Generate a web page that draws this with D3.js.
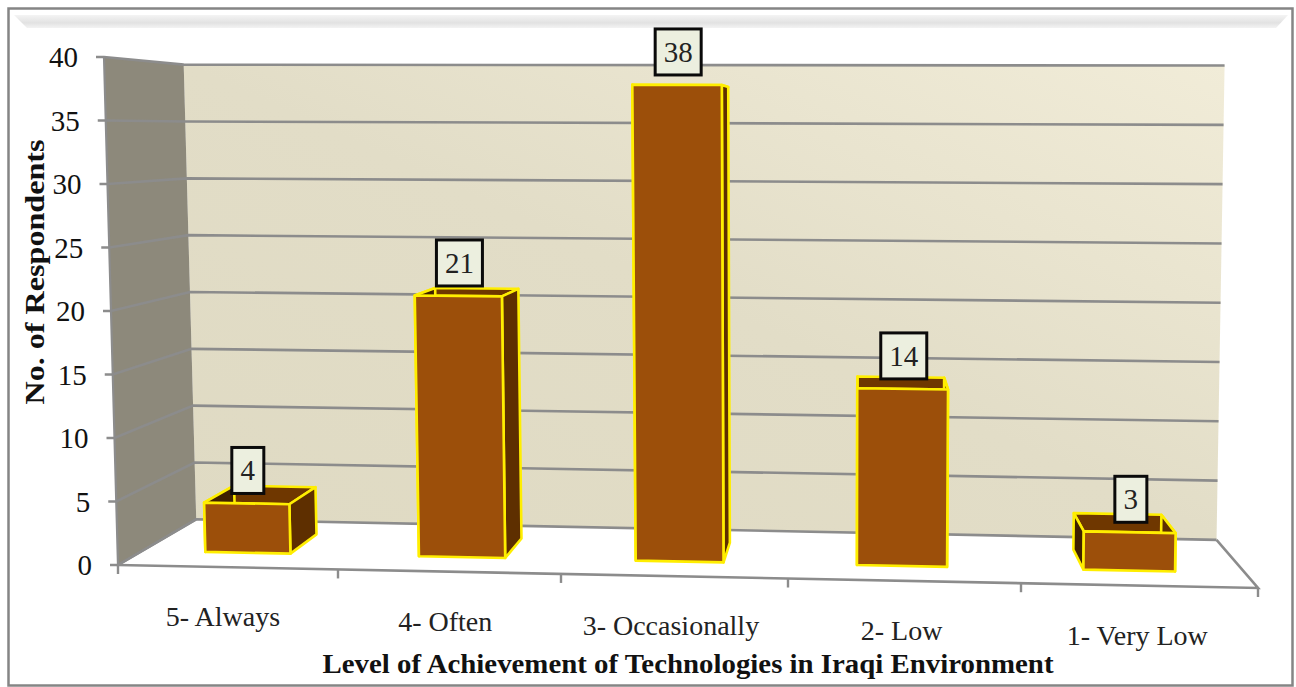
<!DOCTYPE html>
<html>
<head>
<meta charset="utf-8">
<script src="https://cdnjs.cloudflare.com/ajax/libs/d3/7.8.5/d3.min.js"></script>
<style>
html, body { margin: 0; padding: 0; background: #fff; }
svg { display: block; font-family: "Liberation Serif", serif; }
</style>
</head>
<body>
<svg id="chart" width="1296" height="687"></svg>
<script>
// Survey responses per achievement level
const categories = ["5- Always", "4- Often", "3- Occasionally", "2- Low", "1- Very Low"];
const respondents = [4, 21, 38, 14, 3];
const valueTicks = [0, 5, 10, 15, 20, 25, 30, 35, 40];
const valueMax = 40;
const yTitle = "No. of Respondents";
const xTitle = "Level of Achievement of Technologies in Iraqi Environment";

const colors = {
  frame: "#858585", grid: "#8c8c8c", wall: "#8d897b",
  front: "#9c4f0a", top: "#6f3700", right: "#5e2f00", left: "#3f2000",
  edge: "#ffee00", box: "#ecefdf"
};

const svg = d3.select("#chart");

// Perspective set-up: the front plane is described by scales, and depth pulls
// any point toward one shared vanishing point.
const vanish = { x: 863, y: 130 };
const backDepth = 0.105, barNear = 0.033, barFar = 0.077, barHalf = 0.2, barCentre = 0.495;

const floorX = d3.scaleLinear().domain(d3.range(6)).range([118, 338, 561, 788, 1021, 1258]);
const floorY = d3.scaleLinear().domain([118, 1258]).range([565, 588]);
const topX = d3.scaleLinear().domain([118, 1258]).range([104, 1267]);
const topY = d3.scaleLinear().domain([118, 1258]).range([57, 58]);
const lift = d3.scaleLinear().domain([0, valueMax]).range([0, 1]);

function project(u, v, depth) {
  const bx = floorX(u), by = floorY(bx);
  const t = lift(v);
  const x = bx + (topX(bx) - bx) * t;
  const y = by + (topY(bx) - by) * t;
  return [x + (vanish.x - x) * depth, y + (vanish.y - y) * depth];
}
const poly = pts => d3.line()(pts) + "Z";

// Outer frame and bevelled band
const defs = svg.append("defs");
const band = defs.append("linearGradient").attr("id", "band").attr("x1", 0).attr("x2", 0).attr("y1", 0).attr("y2", 1);
band.append("stop").attr("offset", 0).attr("stop-color", "#f4f4f4");
band.append("stop").attr("offset", 0.6).attr("stop-color", "#e2e2e2");
band.append("stop").attr("offset", 1).attr("stop-color", "#f3f3f3");
const wallFill = defs.append("linearGradient").attr("id", "backwall")
  .attr("x1", 0).attr("y1", 1).attr("x2", 1).attr("y2", 0);
wallFill.append("stop").attr("offset", 0).attr("stop-color", "#dfdac3");
wallFill.append("stop").attr("offset", 0.5).attr("stop-color", "#e2ddc7");
wallFill.append("stop").attr("offset", 1).attr("stop-color", "#f1ecd8");

svg.append("rect").attr("x", 8.5).attr("y", 8.5).attr("width", 1284).attr("height", 677)
  .attr("fill", "#fff").attr("stroke", colors.frame).attr("stroke-width", 2.5);
svg.append("path").attr("d", poly([[14, 15], [1288, 15], [1276, 28], [27, 28]])).attr("fill", "url(#band)");

// Back wall, side wall
const uMax = 5;
svg.append("path").attr("fill", "url(#backwall)")
  .attr("d", poly([project(0, 0, backDepth), project(0, valueMax, backDepth), project(uMax, valueMax, backDepth), project(uMax, 0, backDepth)]));
svg.append("path").attr("fill", colors.wall)
  .attr("d", poly([project(0, 0, 0), project(0, valueMax, 0), project(0, valueMax, backDepth), project(0, 0, backDepth)]));

// Gridlines wrap from the side wall onto the back wall
const gridLine = d3.line();
svg.append("g").attr("fill", "none").attr("stroke", colors.grid).attr("stroke-width", 2.6)
  .selectAll("path").data(valueTicks).join("path")
  .attr("d", v => {
    const a = project(0, v, 0);
    return gridLine([[a[0] - 8, a[1]], a, project(0, v, backDepth), project(uMax, v, backDepth)]);
  });

// Floor outline, wall edge and category ticks
svg.append("path").attr("d", gridLine([project(0, 0, 0), project(uMax, 0, 0), project(uMax, 0, backDepth)]))
  .attr("fill", "none").attr("stroke", colors.grid).attr("stroke-width", 2.6);
svg.append("path").attr("d", gridLine([project(0, valueMax, 0), project(0, 0, 0), project(0, 0, backDepth)]))
  .attr("fill", "none").attr("stroke", colors.grid).attr("stroke-width", 2.2);
svg.append("g").selectAll("line").data(d3.range(6)).join("line")
  .attr("x1", u => project(u, 0, 0)[0]).attr("x2", u => project(u, 0, 0)[0])
  .attr("y1", u => project(u, 0, 0)[1]).attr("y2", u => project(u, 0, 0)[1] + 9)
  .attr("stroke", colors.grid).attr("stroke-width", 2.4);

// Value axis labels
svg.append("g").attr("font-size", 29).attr("fill", "#111").attr("text-anchor", "end")
  .selectAll("text").data(valueTicks).join("text")
  .attr("x", v => project(0, v, 0)[0] - 26)
  .attr("y", v => project(0, v, 0)[1] + 10)
  .text(d => d);

// Bars: side faces and top first, front face last
const bars = svg.append("g").selectAll("g").data(respondents).join("g")
  .attr("stroke", colors.edge).attr("stroke-width", 2.6).attr("stroke-linejoin", "round");

bars.append("path").attr("fill", colors.top).attr("d", (v, i) => {
  const a = i + barCentre - barHalf, b = i + barCentre + barHalf;
  return poly([project(a, v, barNear), project(a, v, barFar), project(b, v, barFar), project(b, v, barNear)]);
});
bars.append("path").attr("fill", colors.right).attr("d", (v, i) => {
  const b = i + barCentre + barHalf;
  return poly([project(b, 0, barNear), project(b, v, barNear), project(b, v, barFar), project(b, 0, barFar)]);
});
bars.append("path").attr("fill", colors.left).attr("d", (v, i) => {
  const a = i + barCentre - barHalf;
  return poly([project(a, 0, barNear), project(a, v, barNear), project(a, v, barFar), project(a, 0, barFar)]);
});
bars.append("path").attr("fill", colors.front).attr("d", (v, i) => {
  const a = i + barCentre - barHalf, b = i + barCentre + barHalf;
  return poly([project(a, 0, barNear), project(a, v, barNear), project(b, v, barNear), project(b, 0, barNear)]);
});

// Value callouts sit just above each bar's front edge
const callouts = svg.append("g").selectAll("g").data(respondents).join("g")
  .attr("transform", (v, i) => {
    const p = project(i + 0.5, v, barNear);
    return `translate(${p[0]},${p[1] - 10})`;
  });
callouts.append("rect")
  .attr("x", v => String(v).length > 1 ? -23 : -16)
  .attr("width", v => String(v).length > 1 ? 46 : 32)
  .attr("y", -46).attr("height", 46)
  .attr("fill", colors.box).attr("stroke", "#0a0a0a").attr("stroke-width", 3);
callouts.append("text").attr("text-anchor", "middle").attr("y", -13)
  .attr("font-size", 29).attr("fill", "#222").text(d => d);

// Category labels follow the slope of the floor
svg.append("g").attr("font-size", 28).attr("fill", "#222").attr("text-anchor", "middle")
  .selectAll("text").data(categories).join("text")
  .attr("x", (d, i) => floorX(i + 0.5) - 5 + i * 0.7)
  .attr("y", (d, i) => floorY(floorX(i + 0.5)) + 59)
  .text(d => d);

// Axis titles
svg.append("text").attr("font-size", 27).attr("font-weight", "bold").attr("fill", "#111")
  .attr("text-anchor", "middle").attr("textLength", 265).attr("lengthAdjust", "spacingAndGlyphs")
  .attr("transform", "translate(44,272) rotate(-90)").text(yTitle);
svg.append("text").attr("font-size", 28).attr("font-weight", "bold").attr("fill", "#111")
  .attr("text-anchor", "middle").attr("textLength", 731).attr("lengthAdjust", "spacingAndGlyphs")
  .attr("x", 688).attr("y", 673).text(xTitle);
</script>
</body>
</html>
